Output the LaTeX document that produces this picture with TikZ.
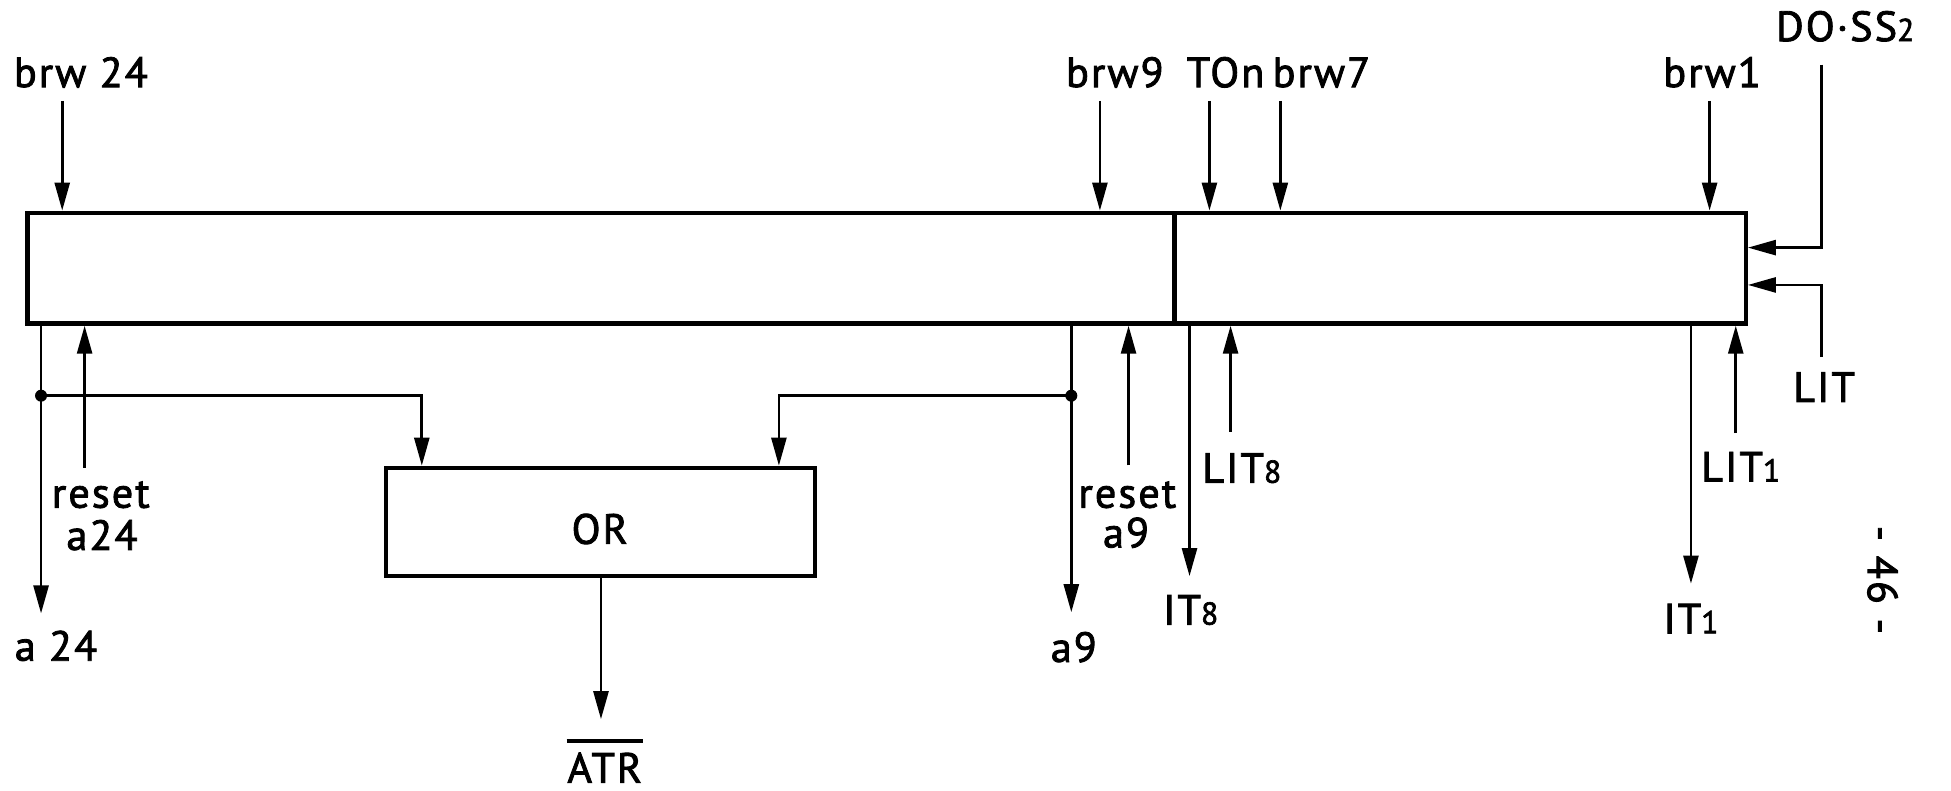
\documentclass[tikz,border=0pt]{standalone}
\usepackage{fontspec}
\setmainfont{PT Sans}[LetterSpace=5,FakeBold=2]
\usetikzlibrary{arrows.meta,fit,calc}
\newcommand\smalld[1]{{\fontsize{9}{10}\selectfont #1}}
\begin{document}
\begin{tikzpicture}[x=0.012443cm,y=-0.012443cm,
  font=\fontsize{12}{14}\selectfont,
  boxline/.style={draw,line width=1.25pt,inner sep=0pt},
  conn/.style={line width=0.75pt},
  arr/.style={conn,-{Triangle[length=2.8mm,width=1.5mm]}},
  lab/.style={inner sep=0pt,anchor=base},
  jdot/.style={circle,fill,inner sep=0pt,minimum size=0.12cm}]
\useasboundingbox (0,0) rectangle (1568,635);

% register and OR gate
\node[boxline, fit={(22,171) (944,260)}] (regL) {};
\node[boxline, fit={(944,171) (1403,260)}] (regR) {};
\node[boxline, fit={(310,376) (655,463)}] (or) {};
\node[lab] (orlab) at (482,437) {OR};

% labels
\node[lab] (brw24) at (65,70) {brw 24};
\node[lab] (brw9) at (896,70) {brw9};
\node[lab] (ton) at (985,70) {TOn};
\node[lab] (brw7) at (1062,70) {brw7};
\node[lab] (brw1) at (1376,70) {brw1};
\node[lab] (doss) at (1483,33) {DO·SS\smalld{2}};
\node[lab] (lit) at (1466,323) {LIT};
\node[lab] (a24) at (45,531) {a 24};
\node[lab] (reseta) at (81,408) {reset};
\node[lab] (ra24) at (82,442) {a24};
\node[lab] (resetb) at (906,408) {reset};
\node[lab] (ra9) at (905,440) {a9};
\node[lab] (a9) at (863,532) {a9};
\node[lab] (it8) at (957,502) {IT\smalld{8}};
\node[lab] (lit8) at (998,388) {LIT\smalld{8}};
\node[lab] (it1) at (1359,509) {IT\smalld{1}};
\node[lab] (lit1) at (1399,387) {LIT\smalld{1}};
\node[lab] (atr) at (486,629) {ATR};
\draw[line width=1.1pt] ($(atr.north west)+(0,-9)$) -- ($(atr.north east)+(0,-9)$);
\node[inner sep=0pt, rotate=-90] (page) at (1513,466) {-\hspace{0.35em}46\hspace{0.35em}-};

% top inputs
\coordinate (t24) at (50,81);
\coordinate (t9) at (884,81);
\coordinate (tton) at (972,81);
\coordinate (t7) at (1029,81);
\coordinate (t1) at (1374,81);
\draw[arr] (t24) -- (t24 |- regL.north);
\draw[arr] (t9) -- (t9 |- regL.north);
\draw[arr] (tton) -- (tton |- regR.north);
\draw[arr] (t7) -- (t7 |- regR.north);
\draw[arr] (t1) -- (t1 |- regR.north);

% right side inputs
\coordinate (dtop) at (1464,52);
\coordinate (dturn) at (1464,199);
\draw[arr] (dtop) -- (dturn) -- (dturn -| regR.east);
\coordinate (lbot) at (1464,287);
\coordinate (lturn) at (1464,229);
\draw[arr] (lbot) -- (lturn) -- (lturn -| regR.east);

% a24 output and OR input
\coordinate (a24end) at (33,493);
\draw[arr] (a24end |- regL.south) -- (a24end);
\node[jdot] (j1) at (33,318) {};
\coordinate (or1x) at (339,318);
\draw[arr] (j1.center) -- (or1x) -- (or1x |- or.north);
\coordinate (r24) at (68,376);
\draw[arr] (r24) -- (r24 |- regL.south);

% OR output
\coordinate (atrtip) at (483,578);
\draw[arr] (or.south -| atrtip) -- (atrtip);

% a9 output and OR input
\coordinate (a9end) at (861,492);
\draw[arr] (a9end |- regL.south) -- (a9end);
\node[jdot] (j2) at (861,318) {};
\coordinate (or2x) at (626,318);
\draw[arr] (j2.center) -- (or2x) -- (or2x |- or.north);
\coordinate (r9) at (907,374);
\draw[arr] (r9) -- (r9 |- regL.south);

% IT8 / LIT8
\coordinate (it8end) at (956,463);
\draw[arr] (it8end |- regR.south) -- (it8end);
\coordinate (lit8s) at (989,347);
\draw[arr] (lit8s) -- (lit8s |- regR.south);

% IT1 / LIT1
\coordinate (it1end) at (1359,469);
\draw[arr] (it1end |- regR.south) -- (it1end);
\coordinate (lit1s) at (1395,348);
\draw[arr] (lit1s) -- (lit1s |- regR.south);
\end{tikzpicture}
\end{document}
